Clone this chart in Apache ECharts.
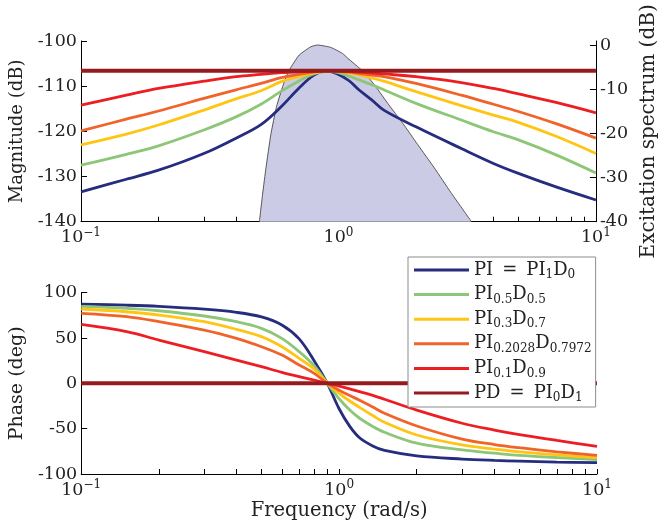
<!DOCTYPE html>
<html><head><meta charset="utf-8">
<script src="https://cdn.jsdelivr.net/npm/echarts@6/dist/echarts.min.js"></script>
<style>html,body{margin:0;padding:0;background:#fff}#c{width:667px;height:529px}</style>
</head><body><div id="c"></div>
<script>
// ---- data ----
const freq = [0.1, 0.15, 0.2, 0.3, 0.4, 0.5, 0.6, 0.7, 0.8, 0.9, 1.0, 1.1, 1.2, 1.35, 1.5, 2, 3, 4, 5, 7, 10];

const magPI   = [-133.4, -130.6, -128.6, -124.9, -121.5, -118.5, -114.5, -110.5, -107.6, -106.6, -107.4, -108.8, -110.8, -113.1, -115.3, -119.0, -123.8, -127.1, -129.3, -132.3, -135.2];
const mag05   = [-127.5, -125.1, -123.2, -119.7, -116.8, -114.0, -111.1, -108.9, -107.3, -106.7, -107.0, -107.8, -108.6, -109.7, -110.8, -113.8, -117.5, -120.1, -121.9, -125.2, -129.2];
const mag03   = [-123.0, -120.6, -118.6, -115.3, -112.8, -111.0, -109.0, -107.9, -107.1, -106.7, -106.8, -107.1, -107.5, -108.2, -108.9, -111.2, -114.3, -116.4, -118.0, -121.1, -124.9];
const mag02   = [-119.9, -117.3, -115.5, -112.7, -110.8, -109.4, -108.1, -107.4, -106.9, -106.6, -106.7, -106.9, -107.2, -107.55, -107.9, -109.4, -112.0, -114.0, -115.6, -118.3, -121.5];
const mag01   = [-114.2, -112.0, -110.5, -108.9, -107.9, -107.4, -107.0, -106.8, -106.7, -106.6, -106.6, -106.7, -106.9, -107.1, -107.3, -107.9, -109.2, -110.5, -111.7, -113.6, -115.9];
const magPD   = [-106.6, -106.6, -106.6, -106.6, -106.6, -106.6, -106.6, -106.6, -106.6, -106.6, -106.6, -106.6, -106.6, -106.6, -106.6, -106.6, -106.6, -106.6, -106.6, -106.6, -106.6];

const phPI    = [87.4, 86.2, 84.9, 81.8, 78.3, 73.3, 64.4, 49.0, 25.0, 0, -28.0, -47.5, -60.0, -69.0, -74.0, -80.0, -83.5, -85.0, -85.8, -86.8, -87.5];
const ph05    = [84.9, 82.7, 80.1, 74.3, 68.0, 60.7, 49.6, 35.0, 19.5, 0, -17.0, -29.5, -38.5, -47.5, -54.0, -66.0, -73.5, -77.0, -79.5, -81.8, -84.0];
const ph03    = [82.0, 79.0, 75.4, 68.0, 59.6, 51.5, 40.4, 27.6, 15.8, 0, -11.0, -19.5, -26.5, -35.5, -43.0, -57.0, -68.0, -72.5, -75.5, -79.0, -82.0];
const ph02    = [77.2, 73.5, 68.0, 58.8, 49.6, 40.4, 31.2, 20.2, 11.0, 0, -7.5, -13.5, -18.6, -26.0, -33.0, -47.0, -61.5, -67.5, -71.0, -75.5, -79.5];
const ph01    = [65.0, 57.0, 47.8, 34.9, 25.7, 18.4, 12.1, 7.4, 3.7, 0, -3.0, -6.0, -9.2, -13.2, -17.5, -29.5, -44.0, -51.5, -56.5, -63.0, -69.5];
const phPD    = [0, 0, 0, 0, 0, 0, 0, 0, 0, 0, 0, 0, 0, 0, 0, 0, 0, 0, 0, 0, 0];

// excitation spectrum (right axis, dB)
const specFreq = [0.493, 0.508, 0.523, 0.546, 0.575, 0.616, 0.644, 0.704, 0.781, 0.829, 0.934, 1.036, 1.087, 1.242, 1.379, 1.553, 1.776, 2.029, 2.356, 2.734, 3.286];
const specDb   = [-40, -33.5, -27.8, -20.3, -13.9, -8.3, -5.65, -2.27, -0.4, 0, -0.55, -1.9, -3.0, -5.9, -9.0, -13.2, -17.7, -22.5, -27.8, -33.4, -40];

// names / labels
const seriesNames = ['PI = PI1D0', 'PI0.5D0.5', 'PI0.3D0.7', 'PI0.2028D0.7972', 'PI0.1D0.9', 'PD = PI0D1'];
const legendRich  = ['{m|PI\u2002=\u2002PI}{s|1}{m|D}{s|0}', '{m|PI}{s|0.5}{m|D}{s|0.5}', '{m|PI}{s|0.3}{m|D}{s|0.7}',
                     '{m|PI}{s|0.2028}{m|D}{s|0.7972}', '{m|PI}{s|0.1}{m|D}{s|0.9}', '{m|PD\u2002=\u2002PI}{s|0}{m|D}{s|1}'];
const colors = ['#262c7e', '#8dc677', '#ffc514', '#f0642a', '#ec1e24', '#961b1e'];
const widths = [2.8, 2.8, 2.8, 2.8, 2.8, 4];

const xTickValues = [0.1, 1, 10];
const xTickExps   = ['\u22121', '0', '1'];
const xMinorTicks = [0.1,0.2,0.3,0.4,0.5,0.6,0.7,0.8,0.9,1,2,3,4,5,6,7,8,9,10];
const rightTicks  = [-40, -30, -20, -10, 0];

const magSets = [magPI, mag05, mag03, mag02, mag01, magPD];
const phSets  = [phPI, ph05, ph03, ph02, ph01, phPD];

// ---- chart ----
const FONT = 'DejaVu Serif';
const TXT = '#222';
const SMOOTH = 0.35;
const chart = echarts.init(document.getElementById('c'), null, {renderer: 'canvas'});

function xAxisCfg(grid, name) {
  return {
    type: 'log', logBase: 10, gridIndex: grid, min: 0.1, max: 10,
    name: name || '', nameLocation: 'middle', nameGap: 27,
    nameTextStyle: {fontFamily: FONT, fontSize: 19.5, color: TXT},
    axisLine: {show: true, onZero: false, lineStyle: {color: '#000', width: 1}},
    axisTick: {show: true, inside: true, length: 5, customValues: xMinorTicks, lineStyle: {color: '#000'}},
    minorTick: {show: false},
    splitLine: {show: false},
    axisLabel: {
      margin: 5,
      formatter: function (v) {
        const i = xTickValues.findIndex(t => Math.abs(Math.log10(t) - Math.log10(v)) < 1e-6);
        return i >= 0 ? '{n|10}{e|' + xTickExps[i] + '}' : '';
      },
      rich: {
        n: {fontFamily: FONT, fontSize: 17.5, color: TXT, lineHeight: 22},
        e: {fontFamily: FONT, fontSize: 12, color: TXT, verticalAlign: 'top'}
      }
    }
  };
}

function yAxisCfg(grid, min, max, interval, name, pos, gap, nameSize) {
  const c = {
    type: 'value', gridIndex: grid, min: min, max: max, position: pos,
    name: name, nameLocation: 'middle', nameGap: gap,
    nameTextStyle: {fontFamily: FONT, fontSize: nameSize, color: TXT},
    axisLine: {show: true, onZero: false, lineStyle: {color: '#000', width: 1}},
    axisTick: {show: true, inside: true, length: 6, lineStyle: {color: '#000'}},
    splitLine: {show: false},
    axisLabel: {fontFamily: FONT, fontSize: 17.5, color: TXT, margin: 4}
  };
  if (interval) c.interval = interval;
  return c;
}

const yRight = yAxisCfg(0, -40, 0.9, null, 'Excitation spectrum (dB)', 'right', 34, 20);
yRight.axisLabel.customValues = rightTicks;
yRight.axisTick.customValues = rightTicks;

const series = [{
  name: 'spectrum', type: 'line', xAxisIndex: 0, yAxisIndex: 1,
  data: specFreq.map((f, i) => [f, specDb[i]]),
  smooth: 0.15, symbol: 'none', z: 1,
  lineStyle: {color: '#333', width: 0.8},
  areaStyle: {color: '#cbcbe5', opacity: 1, origin: 'start'},
  silent: true
}];
seriesNames.forEach((nm, k) => {
  series.push({
    name: nm, type: 'line', xAxisIndex: 0, yAxisIndex: 0, symbol: 'none',
    smooth: SMOOTH, z: 3 + k,
    data: freq.map((f, i) => [f, magSets[k][i]]),
    lineStyle: {color: colors[k], width: widths[k]}, itemStyle: {color: colors[k]}
  });
  series.push({
    name: nm, type: 'line', xAxisIndex: 1, yAxisIndex: 2, symbol: 'none',
    smooth: SMOOTH, z: 3 + k,
    data: freq.map((f, i) => [f, phSets[k][i]]),
    lineStyle: {color: colors[k], width: widths[k]}, itemStyle: {color: colors[k]}
  });
});

chart.setOption({
  animation: false,
  backgroundColor: '#fff',
  grid: [
    {left: 81, top: 41, width: 516, height: 180.7},
    {left: 81, top: 292.7, width: 516, height: 181.3}
  ],
  xAxis: [xAxisCfg(0), xAxisCfg(1, 'Frequency (rad/s)')],
  yAxis: [
    yAxisCfg(0, -140, -100, 10, 'Magnitude (dB)', 'left', 48, 18),
    yRight,
    yAxisCfg(1, -100, 100, 50, 'Phase (deg)', 'left', 48, 19)
  ],
  legend: {
    data: seriesNames, orient: 'vertical', left: 408, top: 257,
    padding: [4, 4, 3, 6], itemGap: 4.6, itemWidth: 55, itemHeight: 3, icon: 'rect',
    backgroundColor: '#fff', borderColor: '#8c8c8c', borderWidth: 1, borderRadius: 0,
    selectedMode: false, z: 10,
    formatter: name => legendRich[seriesNames.indexOf(name)],
    textStyle: {
      color: TXT, fontFamily: FONT, fontSize: 18,
      rich: {
        m: {fontFamily: FONT, fontSize: 18, color: TXT, lineHeight: 22},
        s: {fontFamily: FONT, fontSize: 12, color: TXT, verticalAlign: 'bottom'}
      }
    }
  },
  series: series
});
</script></body></html>
